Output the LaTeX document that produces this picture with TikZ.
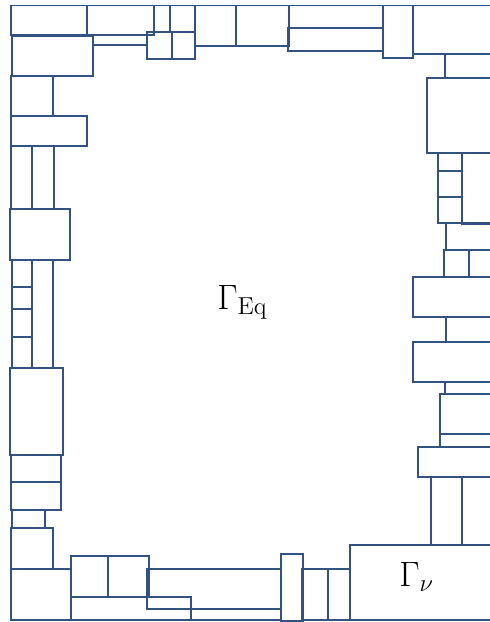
\documentclass[tikz,border=0pt]{standalone}
\begin{document}
\begin{tikzpicture}[x=1pt,y=-1pt,
  cell/.style={draw=lineblue,line width=1.1pt,line join=miter},
  lbl/.style={anchor=base west,inner sep=0pt,font=\fontsize{20.74}{24}\selectfont,scale=1.7}]
\definecolor{lineblue}{RGB}{50,82,128}
\path[use as bounding box] (0,0) rectangle (490,622);
\clip (0,0) rectangle (490,622);
% top row
\foreach \a/\b/\c/\d in {11/5.5/87/35, 87/5.5/154/35, 154/5.5/170/32, 170/5.5/195/32,
  147/32/172/59, 172/32/195/59, 195/5.5/236/46, 236/5.5/289/46,
  289/5.5/383/28, 288/28/383/51, 383/5.5/413/58, 413/5.5/495/54,
  12/36/93/76, 93/35/147/45}
  \draw[cell] (\a,\b) rectangle (\c,\d);
% left column
\foreach \a/\b/\c/\d in {11/76/53/116, 11/116/87/146, 11/146/32/209, 32/146/54/209,
  10/209/70/260, 12/260/32/287, 12/287/32/309, 12/309/32/337, 12/337/32/368,
  32/260/53/368, 10/368/63/455, 11/455/61/482, 11/482/61/510, 12/510/45/528,
  11/528/53/569, 11/569/71/620}
  \draw[cell] (\a,\b) rectangle (\c,\d);
% bottom row
\foreach \a/\b/\c/\d in {71/556/108/597, 108/556/149/597, 71/597/191/620, 191/609/281/620,
  147/569/281/609, 281/554/303/621, 302/569/328/620, 328/569/350/620, 350/545/495/620}
  \draw[cell] (\a,\b) rectangle (\c,\d);
% right column
\foreach \a/\b/\c/\d in {445/54/495/78, 427/78/495/153, 438/153/462/171, 438/171/462/197,
  438/197/462/223, 462/153/495/224, 446/223/495/250, 444/250/469/277, 469/250/495/277,
  413/277/495/317, 446/317/495/342, 413/342/495/382, 445/382/495/394, 440/394/495/434,
  440/434/495/447, 418/447/495/477, 431/477/462/545, 462/477/495/545}
  \draw[cell] (\a,\b) rectangle (\c,\d);
\node[lbl] (eq) at (217,309.5) {$\Gamma_{\mathrm{Eq}}$};
\node[lbl] (nu) at (399,586.5) {$\Gamma_{\nu}$};
\end{tikzpicture}
\end{document}
